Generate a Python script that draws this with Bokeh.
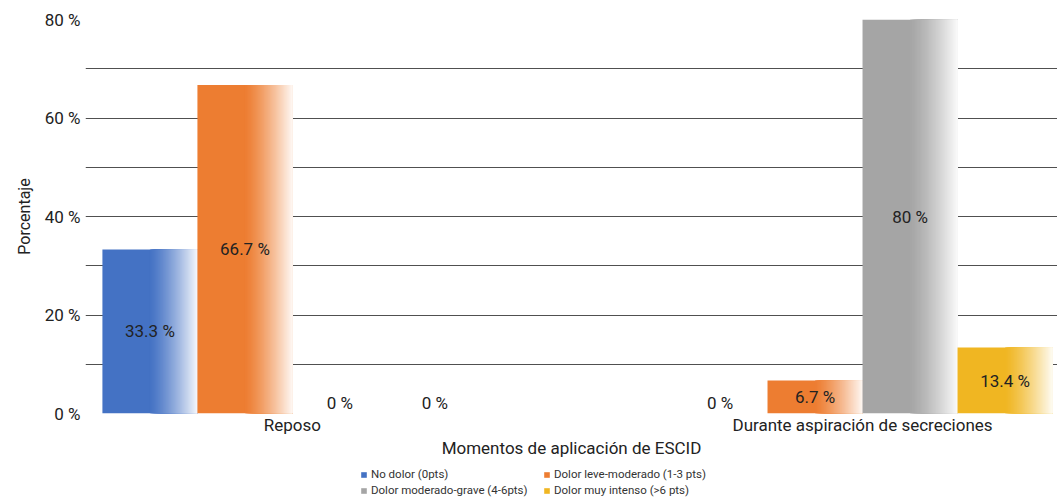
import numpy as np
from bokeh.plotting import figure
from bokeh.layouts import column
from bokeh.models import (ColumnDataSource, FixedTicker, Legend, LegendItem,
                          CustomJSTickFormatter)
from bokeh.embed import file_html
from bokeh.resources import INLINE
from bokeh.core.properties import value

# ---- data -------------------------------------------------------------
categories = ["Reposo", "Durante aspiración de secreciones"]
series = ["No dolor (0pts)", "Dolor leve-moderado (1-3 pts)",
          "Dolor moderado-grave (4-6pts)", "Dolor muy intenso (>6 pts)"]
reposo = [33.3, 66.7, 0.0, 0.0]
durante = [0.0, 6.7, 80.0, 13.4]
y_ticks = [0, 20, 40, 60, 80]

colors = ["#4472c4", "#ed7d31", "#a5a5a5", "#f0b622"]
FONT = "Roboto"
TXT = "#222222"

values = np.array([reposo, durante])          # [category, series]
n_cat, n_ser = values.shape
centers = np.arange(n_cat) + 0.5
bar_w = 1.0 / 6.0
offsets = (np.arange(n_ser) - (n_ser - 1) / 2.0) * bar_w


def blend(hex_color, a):
    """Mix a colour with white by opacity a."""
    rgb = np.array([int(hex_color[i:i + 2], 16) for i in (1, 3, 5)])
    mixed = rgb * a + 255 * (1 - a)
    return "#%02x%02x%02x" % tuple(int(round(m)) for m in mixed)


p = figure(width=1057, height=460, output_backend="svg", toolbar_location=None,
           x_range=(0.137, 1.842), y_range=(0, 80),
           min_border_left=85, min_border_right=0, min_border_top=19,
           min_border_bottom=30)
p.outline_line_color = None
p.background_fill_color = "white"

# horizontal grid every 10 %, no vertical grid
p.xgrid.visible = False
p.ygrid.ticker = FixedTicker(ticks=list(range(0, 81, 10)))
p.ygrid.grid_line_color = "#505050"
p.ygrid.grid_line_width = 1

# bars fading to white towards the right edge: each strip runs to the bar's
# right edge and is painted over by the next, lighter one
n_fade = 40
for s in range(n_ser):
    left, right, top, fill = [], [], [], []
    for c in range(n_cat):
        v = values[c, s]
        if v <= 0:
            continue
        x0 = centers[c] + offsets[s] - bar_w / 2
        left.append(x0)
        right.append(x0 + bar_w)
        top.append(v)
        fill.append(colors[s])
        edges = np.linspace(0.5, 1.0, n_fade + 1)[:-1]
        for a in edges:
            t = (a + 0.5 / n_fade - 0.5) / 0.5
            left.append(x0 + bar_w * a)
            right.append(x0 + bar_w)
            top.append(v)
            fill.append(blend(colors[s], 1.0 - 0.93 * t ** 1.3))
    src = ColumnDataSource(dict(left=left, right=right, top=top,
                                bottom=[0] * len(top), fill=fill))
    p.quad(left="left", right="right", top="top", bottom="bottom", source=src,
           fill_color="fill", line_color=None)

# value labels
lx, ly, lt, lb, loff = [], [], [], [], []
for c in range(n_cat):
    for s in range(n_ser):
        v = values[c, s]
        lx.append(centers[c] + offsets[s])
        lt.append(f"{v:g} %")
        if v > 0:
            ly.append(v / 2)
            lb.append("middle")
            loff.append(0)
        else:
            ly.append(0)
            lb.append("bottom")
            loff.append(-1)
lsrc = ColumnDataSource(dict(x=lx, y=ly, text=lt, base=lb, off=loff))
p.text(x="x", y="y", text="text", source=lsrc, text_align="center",
       text_baseline="base", y_offset="off", text_font=value(FONT),
       text_font_size="17px", text_color=TXT)

# axes: no axis lines or ticks, only labels
for ax in (p.xaxis[0], p.yaxis[0]):
    ax.axis_line_color = None
    ax.major_tick_line_color = None
    ax.minor_tick_line_color = None
    ax.major_tick_out = 0
    ax.major_tick_in = 0
    ax.minor_tick_out = 0
    ax.major_label_text_font = FONT
    ax.major_label_text_font_size = "17px"
    ax.major_label_text_color = TXT
    ax.axis_label_text_font = FONT
    ax.axis_label_text_font_style = "normal"
    ax.axis_label_text_color = TXT

p.yaxis.ticker = FixedTicker(ticks=y_ticks)
p.yaxis.formatter = CustomJSTickFormatter(code="return tick + ' %';")
p.yaxis.major_label_standoff = 5
p.yaxis.axis_label = "Porcentaje"
p.yaxis.axis_label_text_font_size = "16px"
p.yaxis.axis_label_standoff = 8

p.xaxis.ticker = FixedTicker(ticks=list(centers))
p.xaxis.major_label_overrides = {float(c): n for c, n in zip(centers, categories)}
p.xaxis.major_label_standoff = 1
p.xaxis.axis_label = "Momentos de aplicación de ESCID"
p.xaxis.axis_label_text_font_size = "17px"
p.xaxis.axis_label_standoff = 0

# legend strip underneath, two entries per row; the swatch renderers hold
# no visible data, they only carry the fill colour for the legend
lg = figure(width=1057, height=37, output_backend="svg", toolbar_location=None,
            x_range=(0, 1), y_range=(0, 1), min_border=0)
lg.axis.visible = False
lg.grid.visible = False
lg.outline_line_color = None
swatches = []
for s in range(n_ser):
    r = lg.quad(left=[np.nan], right=[np.nan], top=[np.nan], bottom=[np.nan],
                fill_color=colors[s], line_color=None)
    swatches.append(LegendItem(label=series[s], renderers=[r]))
order = [0, 2, 1, 3]
legend = Legend(items=[swatches[i] for i in order], ncols=2,
                location=(275, -1),
                glyph_width=7, glyph_height=7, label_text_font=FONT,
                label_text_font_size="11.5px", label_text_color="#333333",
                label_standoff=4, label_width=172, spacing=0, padding=0,
                margin=0, label_height=16, border_line_color=None,
                background_fill_alpha=0)
lg.add_layout(legend, "center")

open("out.html", "w").write(file_html(column(p, lg, spacing=0), INLINE))
